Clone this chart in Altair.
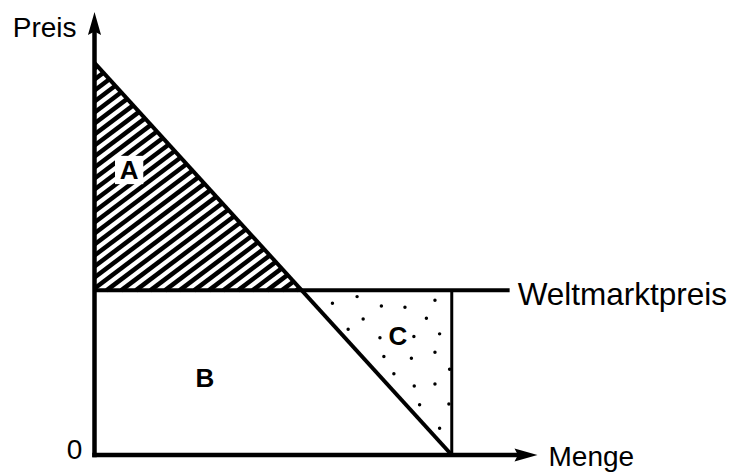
import altair as alt
import pandas as pd
import numpy as np

# ---- model values (economic units) ----
P_CHOKE = 10.0       # demand intercept on the price axis
Q_SAT = 10.0         # demand intercept on the quantity axis
P_WORLD = 4.2        # Weltmarktpreis
Q_WORLD_END = 11.62  # end of the world-price line
X_MAX = 12.4         # tip of the quantity arrow
Y_MAX = 11.3         # tip of the price arrow

# dots of area C
dots_q = [6.66, 7.35, 8.03, 8.69, 9.53, 7.52, 9.29, 7.10, 7.99, 8.94, 9.66,
          8.10, 8.87, 9.53, 8.38, 9.94, 8.95, 9.53, 9.10, 9.92, 9.66]
dots_p = [3.87, 4.04, 3.80, 3.77, 3.95, 3.47, 3.49, 3.21, 2.99, 3.02, 3.09,
          2.51, 2.47, 2.62, 2.07, 2.19, 1.76, 1.81, 1.28, 1.30, 0.68]

# area labels
area_text = ["A", "B", "C"]
area_q = [0.97, 3.09, 8.49]
area_p = [7.27, 1.96, 3.04]

# ---- geometry ----
W, H = 443, 443
SX, SY = W / X_MAX, H / Y_MAX
Q_INT = Q_SAT * (1 - P_WORLD / P_CHOKE)
KD = P_CHOKE / Q_SAT

xs = alt.Scale(domain=[0, X_MAX], nice=False, zero=False)
ys = alt.Scale(domain=[0, Y_MAX], nice=False, zero=False)
X = lambda f: alt.X(f, type="quantitative", scale=xs, axis=None)
Y = lambda f: alt.Y(f, type="quantitative", scale=ys, axis=None)

# hatch lines inside triangle A
theta = np.deg2rad(37)
m = np.tan(theta) * SX / SY
step = 11 / SY
rows = []
y0 = P_CHOKE - step * 0.5
while y0 > P_WORLD - m * Q_INT:
    a = max(0.0, (P_WORLD - y0) / m)
    b = (P_CHOKE - y0) / (m + KD)
    if b > a:
        rows.append(dict(x=a, y=y0 + m * a, x2=b, y2=y0 + m * b))
    y0 -= step
hatch_df = pd.DataFrame(rows)

hatch = alt.Chart(hatch_df).mark_rule(color="black", strokeWidth=4.5, strokeCap="butt").encode(
    x=X("x"), y=Y("y"), x2="x2", y2="y2")

ARROW_LEN = 23
ax_df = pd.DataFrame([
    dict(x=0, y=0, x2=0, y2=Y_MAX - 15 / SY),
    dict(x=0, y=0, x2=X_MAX - 15 / SX, y2=0),
])
axes = alt.Chart(ax_df).mark_rule(color="black", strokeWidth=4.5, strokeCap="square").encode(
    x=X("x"), y=Y("y"), x2="x2", y2="y2")

main_df = pd.DataFrame([
    dict(x=0, y=P_CHOKE, x2=Q_SAT, y2=0),
    dict(x=0, y=P_WORLD, x2=Q_WORLD_END, y2=P_WORLD),
])
main = alt.Chart(main_df).mark_rule(color="black", strokeWidth=4).encode(
    x=X("x"), y=Y("y"), x2="x2", y2="y2")

vert = alt.Chart(pd.DataFrame([dict(x=Q_SAT, y=0, y2=P_WORLD)])).mark_rule(
    color="black", strokeWidth=3).encode(x=X("x"), y=Y("y"), y2="y2")

arrow_shape = "M0,-1L0.57,1L0,0.7L-0.57,1Z"
up_arrow = alt.Chart(pd.DataFrame([dict(x=0, y=Y_MAX - ARROW_LEN / 2 / SY)])).mark_point(
    shape=arrow_shape, filled=True, color="black", opacity=1, size=ARROW_LEN ** 2).encode(
    x=X("x"), y=Y("y"))
right_arrow = alt.Chart(pd.DataFrame([dict(x=X_MAX - ARROW_LEN / 2 / SX, y=0)])).mark_point(
    shape=arrow_shape, filled=True, color="black", opacity=1, size=ARROW_LEN ** 2, angle=90).encode(
    x=X("x"), y=Y("y"))

dots = alt.Chart(pd.DataFrame({"q": dots_q, "p": dots_p})).mark_circle(
    color="black", size=12, opacity=1).encode(x=X("q"), y=Y("p"))

lab_df = pd.DataFrame({"t": area_text, "q": area_q, "p": area_p})
box = alt.Chart(lab_df[lab_df.t == "A"]).mark_square(color="white", size=800, opacity=1).encode(
    x=X("q"), y=Y("p"))
labels = alt.Chart(lab_df).mark_text(font="Liberation Sans", fontWeight="bold", fontSize=26,
                                      color="black", baseline="middle", align="center", dy=1).encode(
    x=X("q"), y=Y("p"), text="t")

FONT = "Liberation Sans"
preis = alt.Chart(pd.DataFrame([dict(x=0, y=Y_MAX, t="Preis")])).mark_text(
    font=FONT, fontSize=28, align="right", baseline="alphabetic", dx=-18, dy=25, color="black").encode(
    x=X("x"), y=Y("y"), text="t")
welt = alt.Chart(pd.DataFrame([dict(x=Q_WORLD_END, y=P_WORLD, t="Weltmarktpreis")])).mark_text(
    font=FONT, fontSize=31.5, align="left", baseline="alphabetic", dx=8, dy=15, color="black").encode(
    x=X("x"), y=Y("y"), text="t")
menge = alt.Chart(pd.DataFrame([dict(x=X_MAX, y=0, t="Menge")])).mark_text(
    font=FONT, fontSize=28, align="left", baseline="alphabetic", dx=11, dy=11, color="black").encode(
    x=X("x"), y=Y("y"), text="t")
zero = alt.Chart(pd.DataFrame([dict(x=0, y=0, t="0")])).mark_text(
    font=FONT, fontSize=28, align="center", baseline="alphabetic", dx=-20, dy=4, color="black").encode(
    x=X("x"), y=Y("y"), text="t")

chart = alt.layer(hatch, main, vert, axes, up_arrow, right_arrow, dots, box, labels,
                  preis, welt, menge, zero).properties(
    width=W, height=H, autosize="none",
    padding={"left": 86.5, "top": 4, "right": 192.5, "bottom": 17},
    background="white",
).configure_view(stroke=None)

chart.save("out.html", embed_options={"renderer": "svg", "actions": False})
